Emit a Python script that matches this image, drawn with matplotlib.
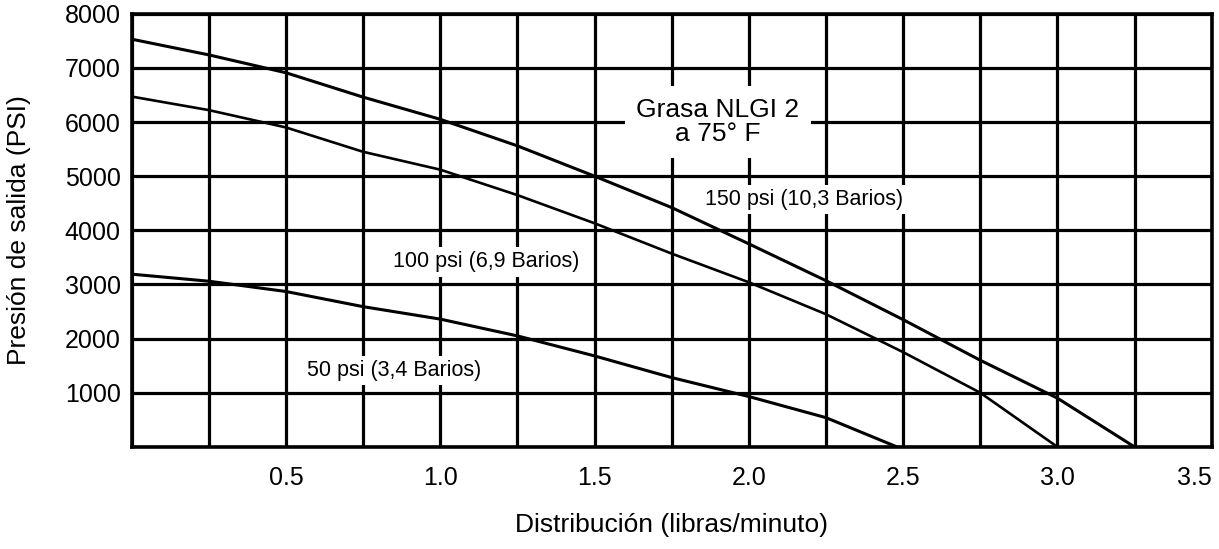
import matplotlib.pyplot as plt
import numpy as np

plt.rcParams['font.family'] = ['Liberation Sans', 'DejaVu Sans']

# curvas (libras/minuto, PSI)
x_150 = [0, 0.25, 0.5, 0.75, 1.0, 1.25, 1.5, 1.75, 2.0, 2.25, 2.5, 2.75, 3.0, 3.25]
y_150 = [7530, 7240, 6910, 6460, 6050, 5560, 5000, 4420, 3750, 3070, 2350, 1600, 900, 0]

x_100 = [0, 0.25, 0.5, 0.75, 1.0, 1.25, 1.5, 1.75, 2.0, 2.25, 2.5, 2.75, 3.0]
y_100 = [6470, 6220, 5900, 5450, 5120, 4650, 4130, 3570, 3040, 2450, 1750, 1000, 0]

x_50 = [0, 0.25, 0.5, 0.75, 1.0, 1.25, 1.5, 1.75, 2.0, 2.25, 2.48]
y_50 = [3190, 3060, 2870, 2590, 2360, 2050, 1680, 1280, 930, 540, 0]

x_ticks = np.arange(0, 3.51, 0.25)
x_labels = ['' if i == 0 or i % 2 else f'{v:.1f}' for i, v in enumerate(x_ticks)]
y_ticks = [0, 1000, 2000, 3000, 4000, 5000, 6000, 7000, 8000]
y_labels = [''] + [str(v) for v in y_ticks[1:]]

fig = plt.figure(figsize=(12.19, 5.49), dpi=100)
ax = fig.add_axes([0.108, 0.186, 0.886, 0.789])

ax.set_xlim(0, 3.5)
ax.set_ylim(0, 8000)

ax.set_xticks(x_ticks)
ax.set_xticklabels(x_labels, fontsize=18)
ax.get_xticklabels()[-1].set_horizontalalignment('right')
ax.set_yticks(y_ticks)
ax.set_yticklabels(y_labels, fontsize=18)
ax.tick_params(length=0)
ax.tick_params(axis='x', pad=14)
ax.tick_params(axis='y', pad=8)

ax.grid(True, color='black', linewidth=2.3)
for s in ax.spines.values():
    s.set_linewidth(2.6)

ax.plot(x_150, y_150, color='black', lw=2.2)
ax.plot(x_100, y_100, color='black', lw=1.9)
ax.plot(x_50, y_50, color='black', lw=2.2)

box = dict(facecolor='white', edgecolor='none', pad=3)
ax.text(1.90, 6000, 'Grasa NLGI 2\na 75° F', fontsize=19, ha='center', va='center',
        multialignment='center', linespacing=1.05,
        bbox=dict(facecolor='white', edgecolor='none', pad=8), zorder=5)
ax.text(2.18, 4570, '150 psi (10,3 Barios)', fontsize=15.5, ha='center', va='center', bbox=box, zorder=5)
ax.text(1.15, 3415, '100 psi (6,9 Barios)', fontsize=15.5, ha='center', va='center', bbox=box, zorder=5)
ax.text(0.85, 1415, '50 psi (3,4 Barios)', fontsize=15.5, ha='center', va='center', bbox=box, zorder=5)

ax.set_xlabel('Distribución (libras/minuto)', fontsize=19, labelpad=16)
ax.set_ylabel('Presión de salida (PSI)', fontsize=19, labelpad=24)

fig.savefig('out.png', dpi=100)
